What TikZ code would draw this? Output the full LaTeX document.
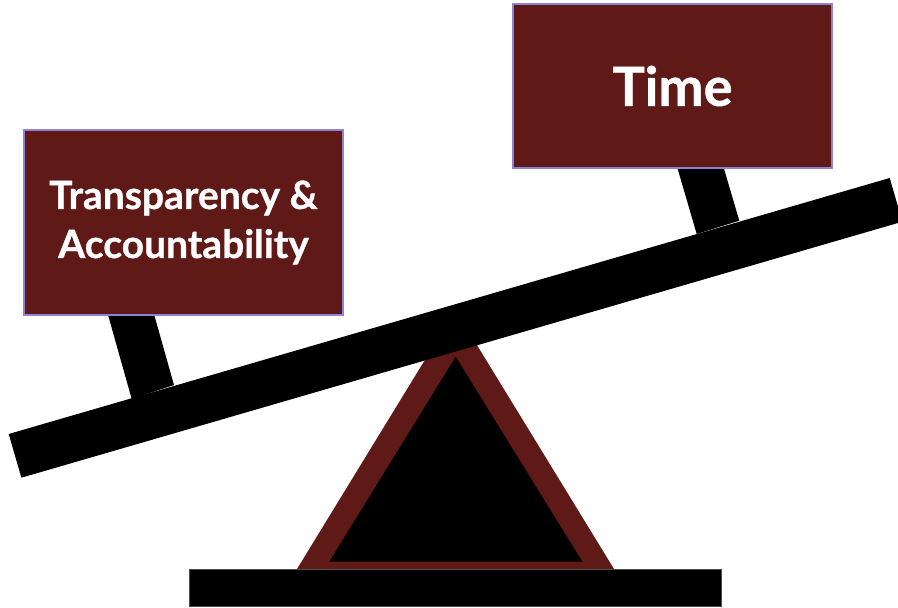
\documentclass[tikz,border=0pt]{standalone}
\usepackage{fontspec}
\setmainfont{Lato}[BoldFeatures={FakeBold=0.8}]
\definecolor{maroon}{HTML}{5F1916}
\definecolor{boxline}{HTML}{8C84D4}
\begin{document}
\begin{tikzpicture}[x=1pt,y=-1pt,
  weight/.style={fill=maroon, draw=boxline, line width=1.2pt, text=white, align=center, inner sep=0pt}]
\useasboundingbox (0,0) rectangle (898,608);
% fulcrum
\fill[maroon] (455.5,310) -- (614.3,569.5) -- (296.7,569.5) -- cycle;
\fill[black] (455.7,356.7) -- (582.3,561.7) -- (329.3,561.7) -- cycle;
% base bar
\draw[fill=black, draw=black!70, line width=0.6pt] (189.3,569.3) rectangle (721.7,606.3);
% posts
\fill[black] (131.7,399) -- (174,385) -- (150.0,300) -- (107.5,313) -- cycle;
\fill[black] (696.7,234) -- (739.3,220.7) -- (717.0,145) -- (674.5,158) -- cycle;
% beam
\fill[black] (8.7,434) -- (889.7,178) -- (902.4,221.7) -- (21.4,477.7) -- cycle;
% boxes
\node[weight, minimum width=319pt, minimum height=185pt, font=\bfseries\fontsize{39}{49}\selectfont] (ta) at (183.5,222.5) {Transparency \&\\Accountability};
\node[weight, minimum width=319pt, minimum height=164pt, font=\bfseries\fontsize{54}{60}\selectfont] (time) at (672.5,86) {Time};
\end{tikzpicture}
\end{document}
